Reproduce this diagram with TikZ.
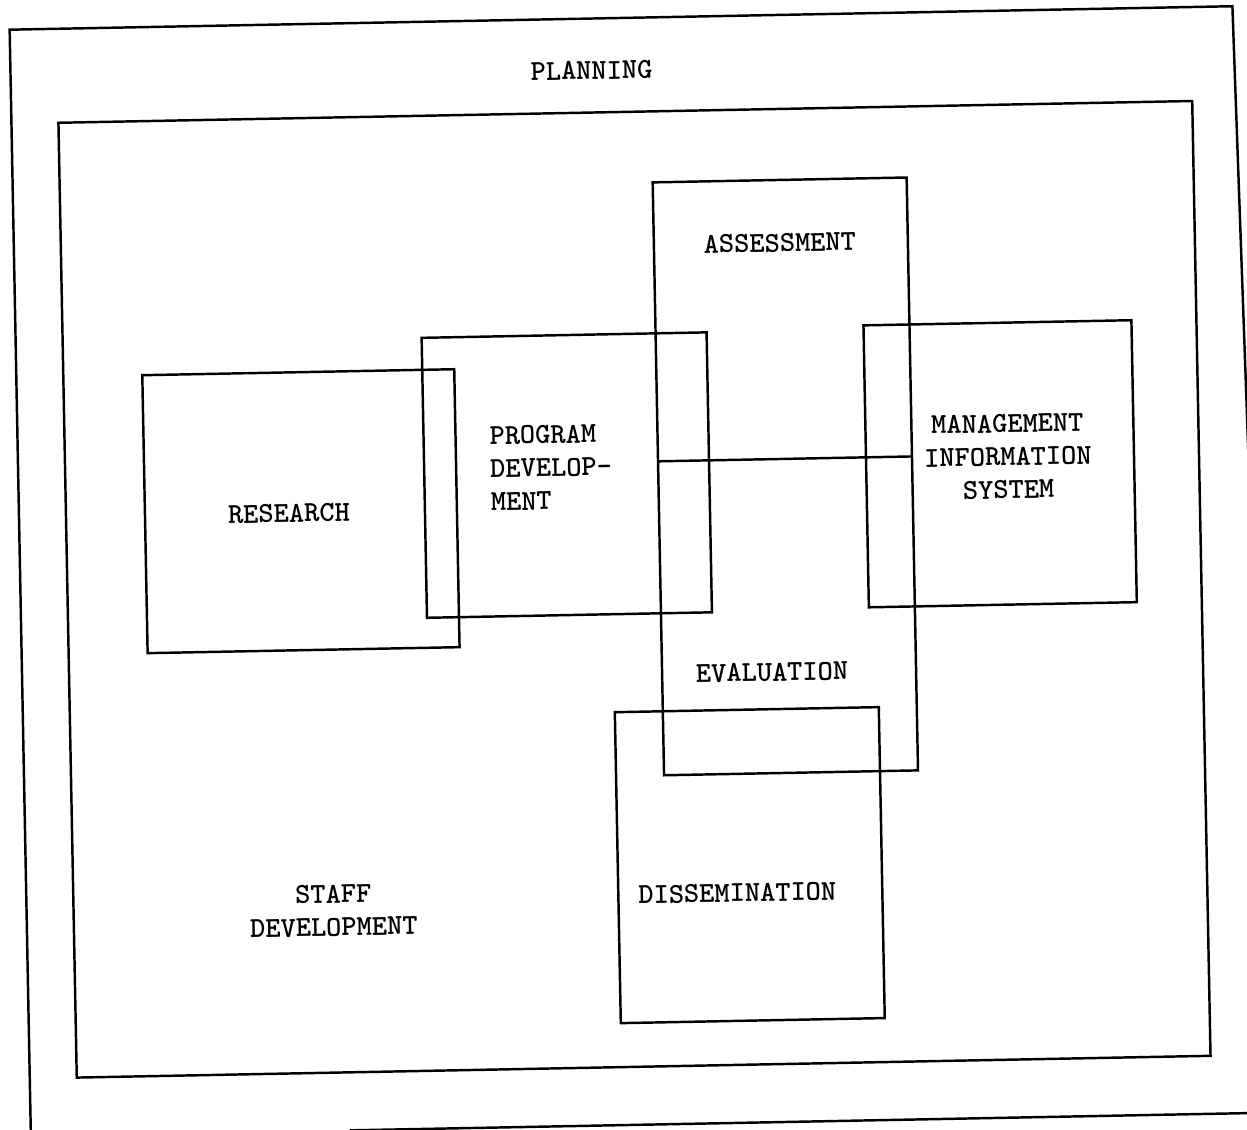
\documentclass[tikz,border=0pt]{standalone}
\usepackage{fontspec}
\usetikzlibrary{positioning}
\tikzset{
  frame/.style={line width=1.4pt},
  boxtext/.style={font=\ttfamily\bfseries\fontsize{16.5}{18.8}\selectfont, align=center, inner sep=0pt},
}

\begin{document}
\begin{tikzpicture}[x=0.02cm, y=-0.02cm]
\clip (0,0) rectangle (1247,1129);
\begin{scope}[rotate around={1.1:(623.5,564.5)}, transform shape]
% planning frame
\draw[frame] (20,1170) -- (20,18) -- (1243,18) -- (1262,1170);
\draw[frame] (339,1125) -- (1280,1125);
\node[boxtext] (planning) at (601,70) {PLANNING};
% inner frame
\draw[frame] (67,112) rectangle (1201,1067);
\node[boxtext] (staff) at (327,905) {STAFF\\DEVELOPMENT};
% research
\draw[frame] (146,366) rectangle (458,644);
\node[boxtext] (research) at (290,507) {RESEARCH};
% program development
\draw[frame] (426,334) rectangle (711,614);
\node[boxtext, align=left] (program) at (553,466) {PROGRAM\\DEVELOP-\\MENT};
% assessment / evaluation
\draw[frame] (660,183) rectangle (914,776);
\draw[frame] (660,462) -- (914,462);
\node[boxtext] (assessment) at (786,246) {ASSESSMENT};
\node[boxtext] (evaluation) at (770,675) {EVALUATION};
% management information system
\draw[frame] (868,330) rectangle (1136,612);
\node[boxtext] (mis) at (1010,464) {MANAGEMENT\\INFORMATION\\SYSTEM};
% dissemination
\draw[frame] (612,712) rectangle (876,1023);
\node[boxtext] (dissemination) at (731,895) {DISSEMINATION};
\end{scope}
\end{tikzpicture}
\end{document}
